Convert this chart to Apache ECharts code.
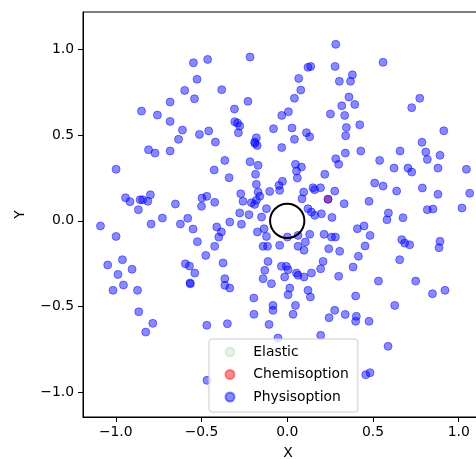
<!DOCTYPE html>
<html>
<head>
<meta charset="utf-8">
<script src="https://cdn.jsdelivr.net/npm/echarts@6/dist/echarts.min.js"></script>
<style>
  html, body { margin: 0; padding: 0; background: #fff; }
  #chart { width: 476px; height: 459px; }
</style>
</head>
<body>
<div id="chart"></div>
<script>
// Adsorption sites on the surface, x/y positions
const elastic = [];
const chemisorption = [[0.238, 0.126]];
const physisorption = [
  [-0.547,0.923],[-0.464,0.943],[-0.526,0.827],[-0.598,0.762],[-0.541,0.713],[-0.683,0.694],
  [-0.850,0.641],[-0.757,0.618],[-0.683,0.581],[-0.611,0.530],[-0.512,0.505],[-0.458,0.525],
  [-0.634,0.476],[-0.419,0.460],[-0.809,0.415],[-0.771,0.396],[-0.683,0.408],
  [0.283,1.031],[-0.217,0.957],[0.121,0.897],[0.137,0.902],[0.279,0.902],[0.067,0.832],
  [0.304,0.815],[-0.382,0.766],[0.079,0.764],[-0.229,0.698],[0.042,0.716],[-0.308,0.653],
  [0.318,0.672],[0.007,0.637],[-0.032,0.616],[0.252,0.624],[0.335,0.616],[-0.306,0.579],
  [-0.290,0.571],[-0.277,0.554],[-0.285,0.515],[-0.080,0.538],[0.028,0.542],[0.345,0.545],
  [0.112,0.515],[0.131,0.491],[0.042,0.476],[-0.180,0.485],[-0.190,0.460],[-0.175,0.440],
  [-0.188,0.452],[-0.032,0.428],[0.341,0.497],
  [0.559,0.926],[0.380,0.853],[0.369,0.815],[0.360,0.723],[0.394,0.680],[0.773,0.716],
  [0.726,0.661],[0.423,0.561],[0.913,0.526],[0.786,0.459],[0.429,0.408],[0.658,0.408],
  [-0.998,0.301],[-0.426,0.297],[-0.943,0.135],[-0.917,0.112],[-0.858,0.123],[-0.843,0.123],
  [-0.813,0.114],[-0.798,0.152],[-0.868,0.065],[-0.652,0.098],[-0.497,0.133],[-0.469,0.143],
  [-0.500,0.085],[-0.423,0.108],[-0.728,0.016],[-0.794,-0.019],[-1.089,-0.030],[-0.580,0.015],
  [-0.623,-0.019],[-0.549,-0.048],[-0.998,-0.091],[-0.524,-0.122],[-0.423,-0.149],[-0.475,-0.202],
  [-0.961,-0.227],[-1.047,-0.258],[-0.905,-0.283],[-0.987,-0.313],[-0.594,-0.251],[-0.570,-0.264],
  [-0.539,-0.305],[-0.567,-0.363],[-0.565,-0.368],[-0.955,-0.375],
  [-1.016,-0.406],[-0.873,-0.406],[-0.866,-0.531],[-0.784,-0.599],[-0.825,-0.650],[-0.469,-0.610],
  [-0.468,-0.932],
  [-0.364,0.353],[-0.217,0.345],[-0.170,0.324],[-0.339,0.252],[-0.185,0.272],[0.048,0.330],
  [0.083,0.314],[0.054,0.291],[0.059,0.250],[0.219,0.272],[0.283,0.363],[0.300,0.330],
  [0.339,0.396],[-0.028,0.231],[-0.048,0.207],[-0.180,0.213],[-0.102,0.172],[-0.044,0.178],
  [-0.271,0.158],[-0.170,0.168],[-0.160,0.143],[-0.180,0.120],[-0.258,0.114],[-0.209,0.106],
  [-0.190,0.096],[0.096,0.168],[0.150,0.193],[0.160,0.182],[0.194,0.193],[0.277,0.174],
  [0.086,0.129],[0.238,0.126],[0.332,0.100],[-0.121,0.071],[0.121,0.071],[0.141,0.051],
  [0.160,0.032],[0.199,0.041],[-0.150,0.022],[-0.277,0.046],[-0.223,0.036],[-0.335,-0.007],
  [-0.267,-0.020],[0.261,0.020],[-0.411,-0.036],[-0.384,-0.065],[-0.399,-0.095],[-0.135,-0.046],
  [-0.174,-0.065],[-0.121,-0.091],[0.001,-0.095],[0.063,-0.085],[0.131,-0.079],[0.215,-0.079],
  [0.258,-0.095],[0.281,-0.095],[-0.141,-0.149],[-0.115,-0.149],[-0.044,-0.143],[0.063,-0.149],
  [0.106,-0.124],[0.098,-0.172],[0.242,-0.163],[0.306,-0.178],[-0.374,-0.246],[-0.112,-0.237],
  [-0.034,-0.266],[-0.005,-0.266],[0.005,-0.286],[-0.131,-0.289],[0.054,-0.305],[0.063,-0.318],
  [0.209,-0.237],[0.195,-0.280],[0.141,-0.305],[0.098,-0.328],[0.300,-0.324],[-0.364,-0.338],
  [-0.141,-0.338],[-0.015,-0.328],
  [0.808,0.402],[0.817,0.359],[0.891,0.383],[0.539,0.353],[0.623,0.308],[0.704,0.308],
  [0.726,0.285],[0.879,0.308],[1.045,0.301],[0.510,0.221],[0.559,0.203],[0.638,0.174],
  [0.788,0.192],[0.879,0.155],[1.064,0.161],[0.477,0.114],[0.590,0.046],[0.582,0.006],
  [0.675,0.018],[0.817,0.065],[0.850,0.069],[1.019,0.075],[0.409,-0.046],[0.448,-0.030],
  [0.483,-0.085],[0.454,-0.147],[0.415,-0.207],[0.384,-0.270],[0.668,-0.110],[0.685,-0.130],
  [0.714,-0.140],[0.891,-0.120],[0.885,-0.157],[0.656,-0.227],[0.532,-0.352],[0.749,-0.352],
  [0.399,-0.439],[0.627,-0.494],[0.847,-0.426],[0.920,-0.406],[0.338,-0.547],[0.403,-0.558],
  [0.399,-0.587],[0.477,-0.587],[0.588,-0.733],[0.458,-0.899],[0.483,-0.887],
  [-0.364,-0.377],[-0.335,-0.393],[-0.092,-0.367],[0.015,-0.393],[0.005,-0.432],[0.121,-0.406],
  [0.135,-0.445],[-0.195,-0.451],[-0.083,-0.494],[-0.083,-0.523],[0.048,-0.494],[-0.194,-0.546],
  [0.034,-0.546],[0.277,-0.523],[0.244,-0.566],[-0.349,-0.601],[-0.106,-0.605],[-0.054,-0.685],
  [0.195,-0.669]
];

// Exclusion ring around the origin: [cx, cy, radius]
const ring = [[0, 0, 0.1]];

const xTicks = [-1.0, -0.5, 0.0, 0.5, 1.0];
const yTicks = [-1.0, -0.5, 0.0, 0.5, 1.0];
const xRange = [-1.191, 1.2];
const yRange = [-1.146, 1.22];

const FONT = 'DejaVu Sans';
const fmt = v => v.toFixed(1).replace('-', '\u2212');

const chart = echarts.init(document.getElementById('chart'), null, { renderer: 'canvas' });

chart.setOption({
  animation: false,
  backgroundColor: '#ffffff',
  grid: {
    left: 83, top: 12, width: 410, height: 405,
    outerBoundsMode: 'none', containLabel: false,
    show: true, borderColor: '#000', borderWidth: 1, backgroundColor: 'transparent'
  },
  xAxis: {
    type: 'value', min: xRange[0], max: xRange[1],
    name: 'X', nameLocation: 'middle', nameGap: 29,
    nameTextStyle: { fontFamily: FONT, fontSize: 13.9, color: '#000' },
    axisLine: { show: true, onZero: false, lineStyle: { color: '#000', width: 1 } },
    axisTick: { show: true, length: 5, customValues: xTicks, lineStyle: { color: '#000', width: 1 } },
    axisLabel: { customValues: xTicks, formatter: fmt, margin: 8, fontFamily: FONT, fontSize: 13.9, color: '#000' },
    splitLine: { show: false }
  },
  yAxis: {
    type: 'value', min: yRange[0], max: yRange[1],
    name: 'Y', nameLocation: 'middle', nameGap: 56,
    nameTextStyle: { fontFamily: FONT, fontSize: 13.9, color: '#000' },
    axisLine: { show: true, onZero: false, lineStyle: { color: '#000', width: 1 } },
    axisTick: { show: true, length: 5, customValues: yTicks, lineStyle: { color: '#000', width: 1 } },
    axisLabel: { customValues: yTicks, formatter: fmt, margin: 9, fontFamily: FONT, fontSize: 13.9, color: '#000' },
    splitLine: { show: false }
  },
  legend: {
    data: ['Elastic', 'Chemisoption', 'Physisoption'],
    orient: 'vertical', left: 209, top: 339,
    padding: [6, 9, 8, 15.5],
    itemWidth: 36.5, itemHeight: 9, itemGap: 8.5,
    icon: 'circle',
    selectedMode: false,
    backgroundColor: 'rgba(255,255,255,0.8)',
    borderColor: '#cccccc', borderWidth: 1, borderRadius: 3,
    textStyle: { fontFamily: FONT, fontSize: 13.9, color: '#000', lineHeight: 14 }
  },
  series: [
    {
      name: 'Elastic', type: 'scatter', data: elastic, symbolSize: 8,
      itemStyle: { color: 'rgba(0,128,0,0.13)', borderColor: 'rgba(0,128,0,0.13)', borderWidth: 1 }
    },
    {
      name: 'Chemisoption', type: 'scatter', data: chemisorption, symbolSize: 8,
      itemStyle: { color: 'rgba(255,0,0,0.55)', borderColor: 'rgba(255,0,0,0.55)', borderWidth: 1 }
    },
    {
      name: 'Physisoption', type: 'scatter', data: physisorption, symbolSize: 8,
      itemStyle: { color: 'rgba(0,0,255,0.58)', borderColor: 'rgba(0,0,255,0.58)', borderWidth: 1 }
    },
    {
      name: 'ring', type: 'custom', data: ring, z: 5, silent: true,
      renderItem: function (params, api) {
        const c = api.coord([api.value(0), api.value(1)]);
        const r = api.size([api.value(2), 0])[0];
        return {
          type: 'circle',
          shape: { cx: c[0], cy: c[1], r: r },
          style: { fill: 'none', stroke: '#000', lineWidth: 2 }
        };
      }
    }
  ]
});
</script>
</body>
</html>
